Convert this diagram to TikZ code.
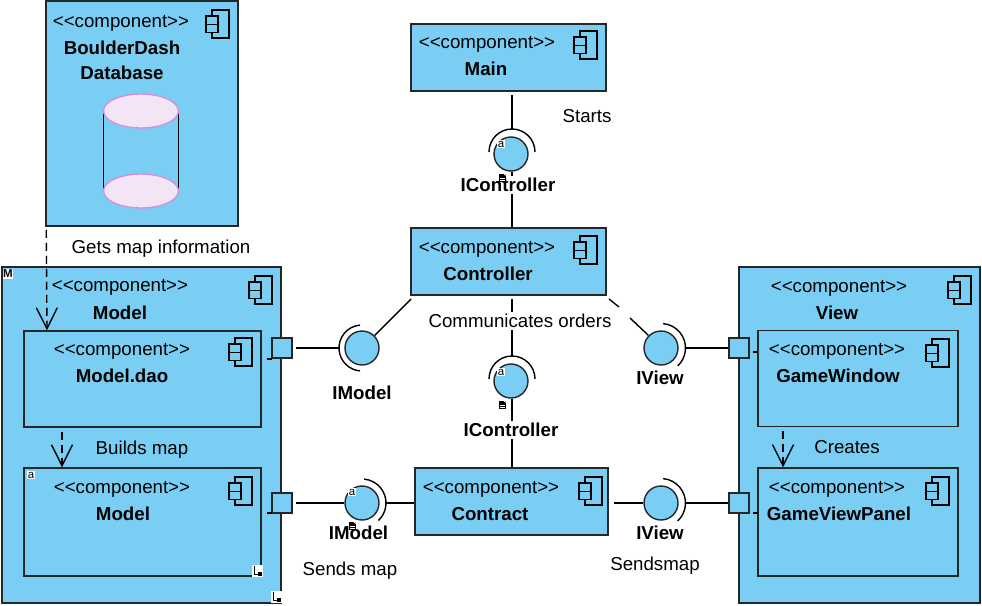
\documentclass[tikz,border=0pt]{standalone}
\usepackage{fontspec}
\setmainfont{Liberation Sans}
\usetikzlibrary{arrows.meta}
\definecolor{compblue}{HTML}{7ACEF4}
\definecolor{dbfill}{HTML}{F3E5F5}
\definecolor{dbline}{HTML}{CE93D8}
\tikzset{
    comp/.style={draw=black!85, fill=compblue, line width=1.5pt, minimum width=#1, inner sep=0pt},
    port/.style={draw=black!85, fill=compblue, line width=1.4pt, minimum size=20pt, inner sep=0pt},
    iface/.style={circle, draw=black!85, fill=compblue, line width=1.4pt, minimum size=34pt, inner sep=0pt},
    stereo/.style={font=\fontsize{18.7}{20}\selectfont, inner sep=0pt, yshift=-1.5pt},
    compname/.style={font=\fontsize{18.7}{20}\selectfont\bfseries, inner sep=0pt, yshift=-1pt},
    note/.style={font=\fontsize{18.7}{20}\selectfont, inner sep=2pt, yshift=-1pt},
    ifname/.style={font=\fontsize{18.7}{20}\selectfont\bfseries, fill=white, inner sep=2pt},
    badge/.style={font=\fontsize{11.5}{11.5}\selectfont, fill=white, inner sep=0.6pt}
}
\begin{document}
\begin{tikzpicture}[x=1pt, y=-1pt, line width=1.4pt, >={Straight Barb[length=21pt, width=21pt]}]
    \useasboundingbox (0,0) rectangle (982,605);
    % Komponentai
    \node[comp=192pt, minimum height=225pt] (database) at (142,113.5) {};
    \node[comp=279pt, minimum height=336pt] (modelout) at (141.5,435) {};
    \node[comp=237pt, minimum height=96pt] (dao) at (142.5,379) {};
    \node[comp=237pt, minimum height=108pt] (modelin) at (142.5,522) {};
    \node[comp=195pt, minimum height=67pt] (main) at (508.5,57.5) {};
    \node[comp=195pt, minimum height=67pt] (controller) at (508.5,261.5) {};
    \node[comp=193pt, minimum height=67pt] (contract) at (511.5,501.5) {};
    \node[comp=241pt, minimum height=336pt] (viewout) at (859.5,435) {};
    \node[comp=200pt, minimum height=96pt] (window) at (858,378.5) {};
    \node[comp=200pt, minimum height=108pt] (panel) at (858,522) {};
    % Komponentu zenkleliai
    \foreach \x/\y in {212/10, 255/276, 235/338, 235/477, 580/31, 580/236, 585/477, 954/276, 932/339, 932/477} {
        \draw[line width=1.1pt] (\x,\y) rectangle (\x+17,\y+28);
        \draw[line width=1.1pt, fill=compblue] (\x-6,\y+6) rectangle (\x+6,\y+14.5);
        \draw[line width=1.1pt, fill=compblue] (\x-6,\y+14.5) rectangle (\x+6,\y+22.5);
    }
    % Uzrasai komponentuose
    \foreach \x/\y in {121/22, 120/286, 122/350, 122/488, 487/43, 487/248, 491/488, 839/287, 837/350, 837/488} {
        \node[stereo] (st\x\y) at (\x,\y) {<{}<component>{}>};
    }
    \node[compname] (namedb) at (122,47) {BoulderDash};
    \node[compname] (namedbb) at (122,72) {Database};
    \node[compname] (namemodel) at (120,312) {Model};
    \node[compname] (namedao) at (122,375) {Model.dao};
    \node[compname] (namein) at (123,513) {Model};
    \node[compname] (namemain) at (486,68) {Main};
    \node[compname] (namectrl) at (488,273) {Controller};
    \node[compname] (namecontract) at (490,513) {Contract};
    \node[compname] (nameview) at (837,312) {View};
    \node[compname] (namewindow) at (838,375) {GameWindow};
    \node[compname] (namepanel) at (839,513) {GameViewPanel};
    % Duomenu baze
    \draw (103.5,113) -- (103.5,191);
    \draw (178.5,113) -- (178.5,191);
    \draw[draw=dbline, fill=dbfill] (141,111) ellipse (37.5 and 17);
    \draw[draw=dbline, fill=dbfill] (141,191) ellipse (37.5 and 17);
    % Prievadai
    \node[port] (portdao) at (282,348) {};
    \node[port] (portmodel) at (282,503) {};
    \node[port] (portwindow) at (739,348) {};
    \node[port] (portpanel) at (739,503) {};
    \foreach \xa/\xb/\y in {267/272/359, 267/272/513, 753/758/352, 753/758/513} {
        \draw (\xa,\y) -- (\xb,\y);
    }
    % Sasajos
    \node[iface] (imodelup) at (362,348) {};
    \node[iface] (imodeldown) at (362,503) {};
    \node[iface] (ictrlup) at (511,154) {};
    \node[iface] (ictrldown) at (511,381) {};
    \node[iface] (iviewup) at (661,348) {};
    \node[iface] (iviewdown) at (661,503) {};
    \draw (362,348) ++(-95:23) arc (-95:-265:23);
    \draw (362,503) ++(-85:24) arc (-85:47:24);
    \draw (512,152) ++(180:23) arc (180:360:23);
    \draw (512,379) ++(180:23) arc (180:360:23);
    \draw (661,348) ++(-85:24.5) arc (-85:47:24.5);
    \draw (661,503) ++(-85:24.5) arc (-85:47:24.5);
    \coordinate (ictrlupend) at (512,129);
    \coordinate (ictrldownend) at (512,356);
    \coordinate (imodelupend) at (339,348);
    \coordinate (imodeldownend) at (386,503);
    \coordinate (iviewupend) at (686,348);
    \coordinate (iviewdownend) at (686,503);
    \coordinate (ctrlcorner) at (411,299);
    \coordinate (ctrlcornerb) at (609,299);
    \coordinate (viewbreak) at (619,307);
    \coordinate (viewbreakb) at (630,318);
    % Jungtys
    \draw[shorten <=3pt] (main.south -| ictrlupend) -- (ictrlupend);
    \draw (ictrlup.south -| ictrlupend) -- (controller.north -| ictrlupend);
    \draw (ctrlcorner) -- (imodelup.45);
    \draw[shorten <=3pt] (controller.south -| ictrldownend) -- (ictrldownend);
    \draw (ictrldown.south -| ictrldownend) -- (contract.north -| ictrldownend);
    \draw (ctrlcornerb) -- (viewbreak);
    \draw (viewbreakb) -- (iviewup.135);
    \draw[shorten <=3pt] (portdao.east) -- (imodelupend);
    \draw[shorten <=3pt] (portmodel.east) -- (imodeldown.west);
    \draw (imodeldownend) -- (contract.west |- imodeldownend);
    \draw (iviewupend) -- (portwindow.west);
    \draw (iviewdownend) -- (portpanel.west);
    \draw[shorten <=5pt] (contract.east |- iviewdown) -- (iviewdown.west);
    % Priklausomybes
    \draw[->, dash pattern=on 8pt off 5pt] (database.south west) ++(1,3) -- (dao.north -| 47,331);
    \draw[->, dash pattern=on 8pt off 5pt, shorten <=4pt] (dao.south -| 62,427) -- (modelin.north -| 62,468);
    \draw[->, dash pattern=on 8pt off 5pt, shorten <=4pt] (window.south -| 783,426) -- (panel.north -| 783,468);
    % Uzrasai
    \node[ifname] (lictrlup) at (508,185) {IController};
    \node[ifname] (lictrldown) at (511,430) {IController};
    \node[ifname] (limodelup) at (362,393) {IModel};
    \node[ifname, fill=none] (limodeldown) at (358.5,533) {IModel};
    \node[ifname] (liviewup) at (660,378) {IView};
    \node[ifname] (liviewdown) at (660,533) {IView};
    \node[note] (starts) at (587,115) {Starts};
    \node[note] (gets) at (161,248) {Gets map information};
    \node[note, fill=white] (orders) at (520,320) {Communicates orders};
    \node[note] (builds) at (142,449) {Builds map};
    \node[note] (creates) at (847,446) {Creates};
    \node[note] (sends) at (350,570) {Sends map};
    \node[note] (sendsb) at (655,565) {Sendsmap};
    % Redaktoriaus zenkleliai
    \foreach \x/\y in {501/144, 501/372, 31/475, 352/492} {
        \node[badge] (a\x) at (\x,\y) {a};
    }
    \node[badge, font=\fontsize{11.5}{11.5}\selectfont\bfseries] (mbadge) at (8,274) {M};
    \foreach \x/\y in {502/178, 502/405, 352/526} {
        \fill (\x-3.5,\y-4) rectangle (\x+3.5,\y+4);
        \fill[white] (\x+1.5,\y-4) -- (\x+3.5,\y-4) -- (\x+3.5,\y-2) -- cycle;
        \draw[white, line width=0.6pt] (\x-2,\y) -- (\x+2.5,\y) (\x-2,\y+2) -- (\x+2.5,\y+2);
    }
    \foreach \x/\y in {258/571, 277/597} {
        \fill[white] (\x-6,\y-6) rectangle (\x+5,\y+6);
        \draw[line width=0.9pt] (\x-4,\y-5) -- (\x-4,\y+3) -- (\x+1,\y+3);
        \fill (\x,\y+0.5) rectangle (\x+4,\y+5);
    }
\end{tikzpicture}
\end{document}
